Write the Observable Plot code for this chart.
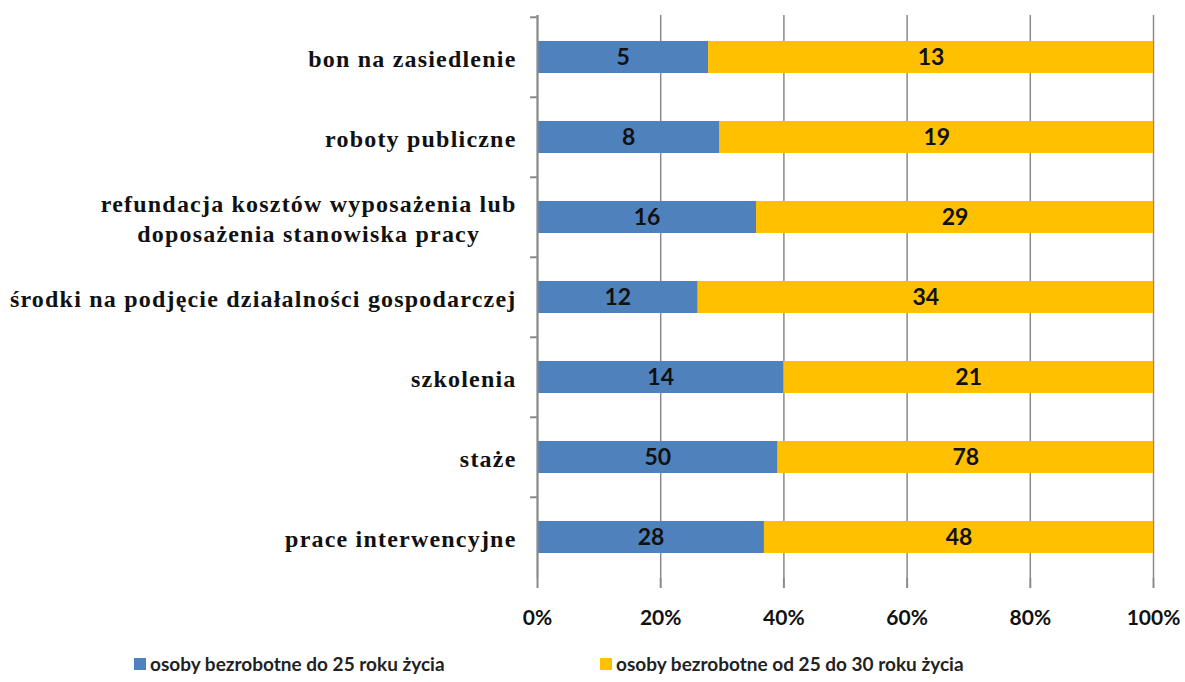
<!DOCTYPE html>
<html>
<head>
<meta charset="utf-8">
<script src="https://cdn.jsdelivr.net/npm/d3@7"></script>
<script src="https://cdn.jsdelivr.net/npm/@observablehq/plot@0.6"></script>
<style>
  html, body { margin: 0; padding: 0; background: #fff; }
  #chart { position: relative; width: 1185px; height: 682px; }
  #legend { position: absolute; top: 652px; left: 0; width: 1185px; height: 28px;
    font-family: Lato, "Open Sans", sans-serif; font-weight: bold; font-size: 19px; color: #222; }
  .item { position: absolute; top: 0; display: flex; align-items: center; white-space: nowrap; }
  .sw { width: 12px; height: 12px; margin-right: 4px; }
</style>
</head>
<body>
<div id="chart"><div id="plot"></div><div id="legend"></div></div>
<script>
const categories = [
  "bon na zasiedlenie",
  "roboty publiczne",
  "refundacja kosztów wyposażenia lub\ndoposażenia stanowiska pracy",
  "środki na podjęcie działalności gospodarczej",
  "szkolenia",
  "staże",
  "prace interwencyjne"
];
const seriesNames = [
  "osoby bezrobotne do 25 roku życia",
  "osoby bezrobotne od 25 do 30 roku życia"
];
const under25 = [5, 8, 16, 12, 14, 50, 28];
const from25to30 = [13, 19, 29, 34, 21, 78, 48];
const xTicks = [0, 0.2, 0.4, 0.6, 0.8, 1];
const colors = ["#4F81BD", "#FFC000"];

const data = [];
categories.forEach((c, i) => {
  data.push({cat: c, group: seriesNames[0], value: under25[i]});
  data.push({cat: c, group: seriesNames[1], value: from25to30[i]});
});

const H = 640, mt = 15, mb = 62;
const bw = (H - mt - mb) / categories.length;
const gray = "#8a8a8a";

const plot = Plot.plot({
  width: 1185,
  height: H,
  marginTop: mt,
  marginBottom: mb,
  marginLeft: 537,
  marginRight: 32,
  style: {fontFamily: "Lato, sans-serif"},
  x: {domain: [0, 1], ticks: xTicks},
  y: {domain: categories, padding: 0, paddingInner: 0.6, paddingOuter: 0.3},
  color: {domain: seriesNames, range: colors},
  marks: [
    Plot.gridX(xTicks, {stroke: gray, strokeOpacity: 1, strokeWidth: 1.5}),
    Plot.barX(data, Plot.stackX({x: "value", y: "cat", fill: "group", offset: "normalize"})),
    Plot.text(data, Plot.stackX({x: "value", y: "cat", text: "value", offset: "normalize",
      fontSize: 23, fontWeight: "bold", fill: "#111"})),
    Plot.ruleX([0], {stroke: gray, strokeWidth: 2}),
    Plot.axisX(xTicks, {tickFormat: d => Math.round(d * 100) + "%", tickSize: 10, tickPadding: 22,
      stroke: gray, strokeWidth: 2, fontSize: 21, fontWeight: "bold", fill: "#111", label: null}),
    Plot.axisY({tickSize: 7, tickFormat: () => "", dy: -bw / 2, stroke: gray, strokeWidth: 2, label: null}),
    Plot.text(categories, {y: d => d, text: d => d, frameAnchor: "left", dx: -21, textAnchor: "end",
      fontSize: 24, fontWeight: "bold", fill: "#111", lineHeight: 1.25})
  ]
});
plot.style.overflow = "visible";
document.getElementById("plot").appendChild(plot);

const catSet = new Set(categories.map(c => c.replace(/\n/g, "")));
plot.querySelectorAll("text").forEach(t => {
  if (catSet.has(t.textContent)) {
    t.style.fontFamily = '"Liberation Serif", "Times New Roman", serif';
    t.style.fontSize = "24px";
    t.style.letterSpacing = "1.2px";
    t.style.fontWeight = "bold";
  }
});
// center the multi-line category label like Excel does
plot.querySelectorAll("text").forEach(t => {
  if (t.querySelectorAll("tspan").length > 1) {
    const bb = t.getBBox();
    t.setAttribute("text-anchor", "middle");
    const tr = t.getAttribute("transform") || "";
    t.setAttribute("transform", tr + ` translate(${-bb.width / 2},0)`);
  }
});

const legend = document.getElementById("legend");
const lefts = [134, 600];
seriesNames.forEach((s, i) => {
  const it = document.createElement("div");
  it.className = "item";
  it.style.left = lefts[i] + "px";
  it.innerHTML = `<span class="sw" style="background:${colors[i]}"></span><span>${s}</span>`;
  legend.appendChild(it);
});
</script>
</body>
</html>
